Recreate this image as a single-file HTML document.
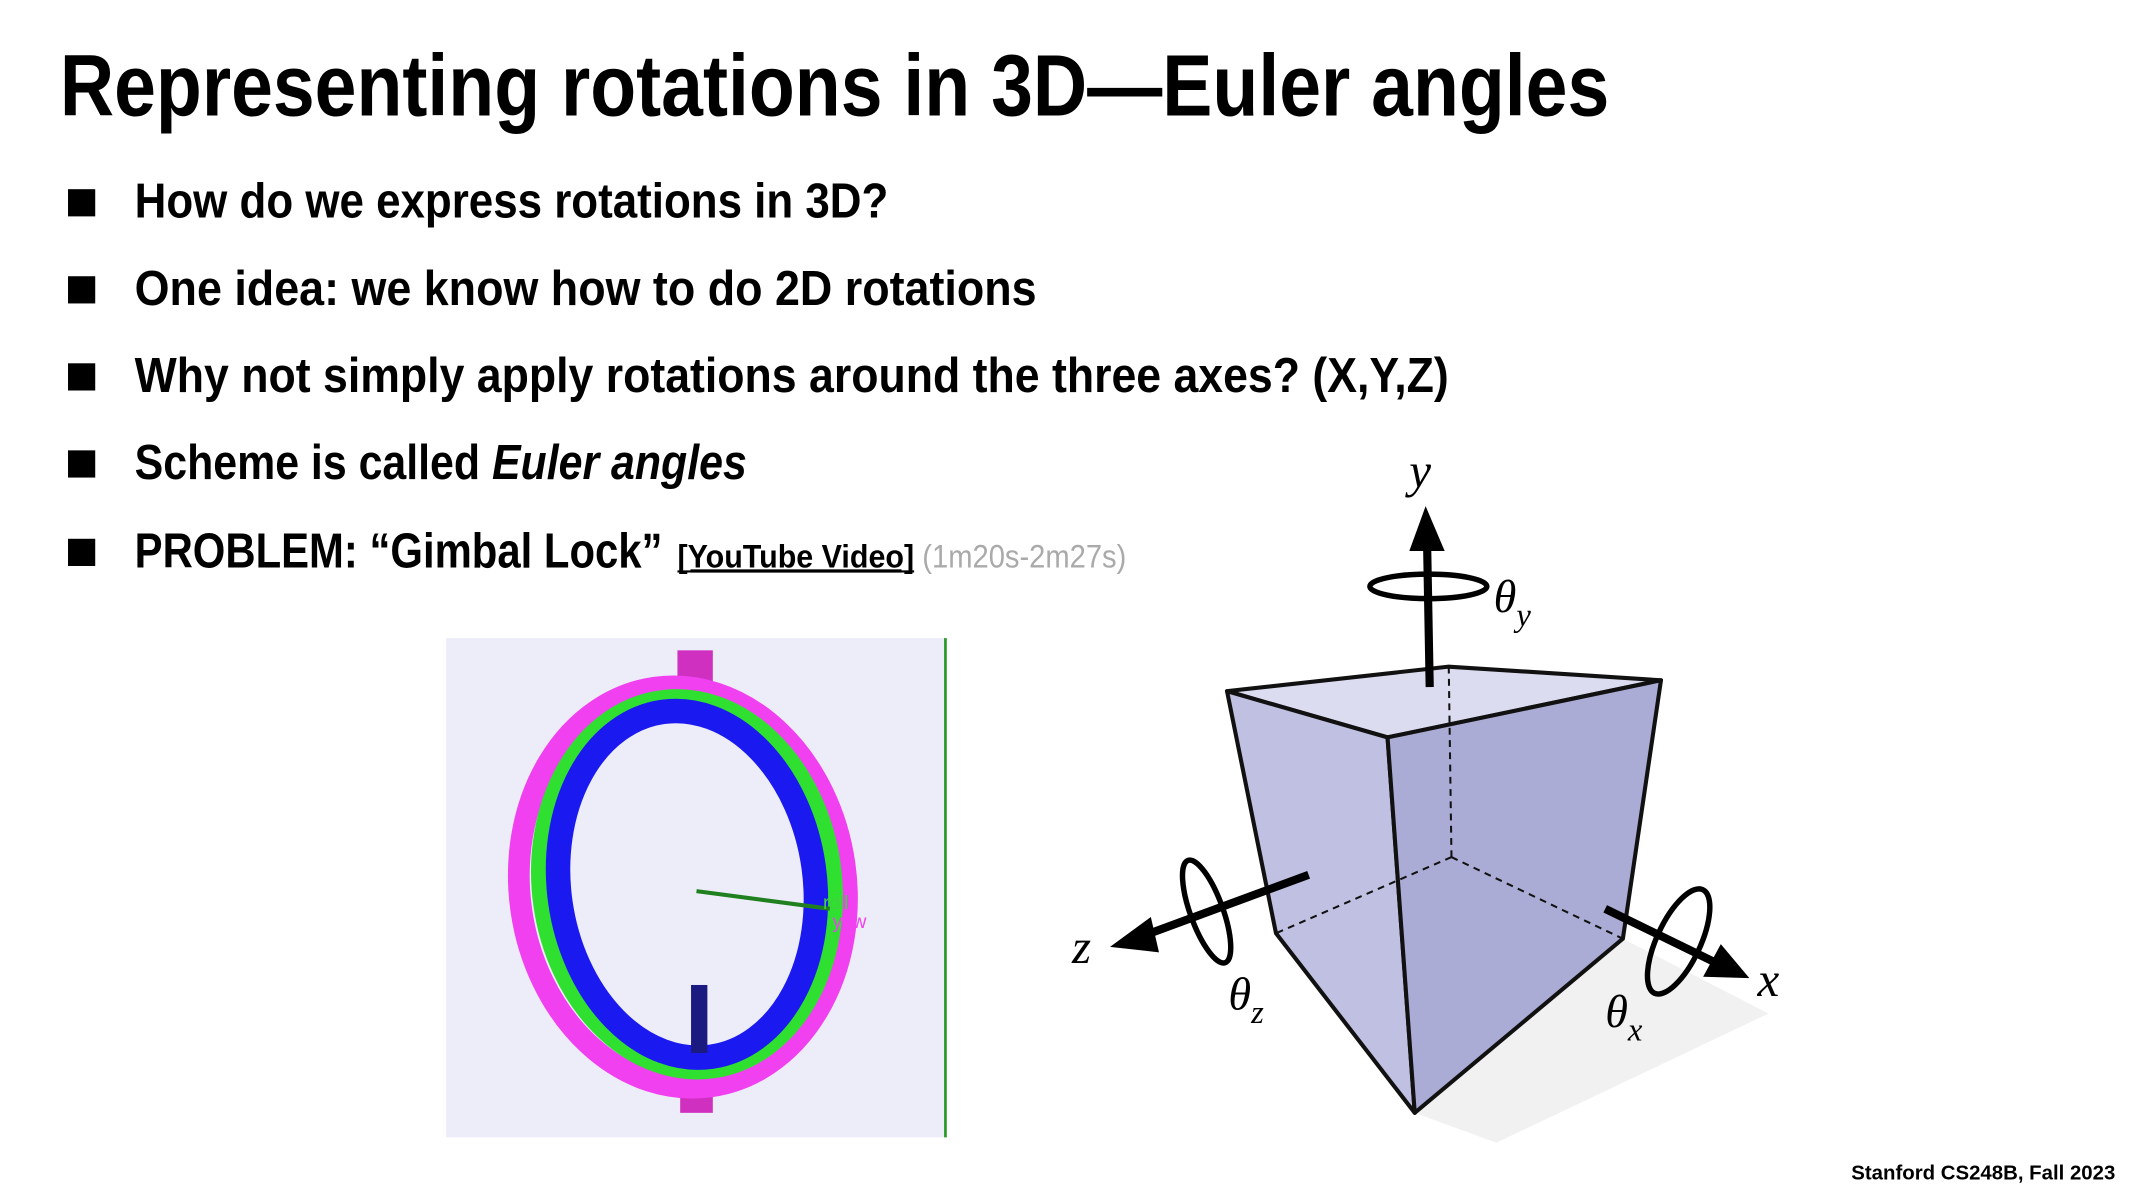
<!DOCTYPE html>
<html><head><meta charset="utf-8"><style>
html,body{margin:0;padding:0;background:#fff;}
svg{display:block;}
.t{font-family:"Liberation Sans Narrow","Liberation Sans",sans-serif;font-weight:bold;fill:#000;}
.m{font-family:"Liberation Serif",serif;font-style:italic;fill:#000;}
</style></head><body>
<svg width="2133" height="1200" viewBox="0 0 1568 882" xmlns="http://www.w3.org/2000/svg">
<text class="t" x="44" y="85" font-size="64" textLength="1139" lengthAdjust="spacingAndGlyphs">Representing rotations in 3D—Euler angles</text>
<g>
<rect x="50" y="139" width="20" height="20"/>
<text class="t" x="99" y="160" font-size="36" textLength="554" lengthAdjust="spacingAndGlyphs">How do we express rotations in 3D?</text>
<rect x="50" y="203" width="20" height="20"/>
<text class="t" x="99" y="224" font-size="36" textLength="663" lengthAdjust="spacingAndGlyphs">One idea: we know how to do 2D rotations</text>
<rect x="50" y="267" width="20" height="20"/>
<text class="t" x="99" y="288" font-size="36" textLength="966" lengthAdjust="spacingAndGlyphs">Why not simply apply rotations around the three axes? (X,Y,Z)</text>
<rect x="50" y="331" width="20" height="20"/>
<text class="t" x="99" y="352" font-size="36" textLength="450" lengthAdjust="spacingAndGlyphs">Scheme is called <tspan font-style="italic">Euler angles</tspan></text>
<rect x="50" y="396" width="20" height="20"/>
<text class="t" x="99" y="417" font-size="36" textLength="388" lengthAdjust="spacingAndGlyphs">PROBLEM: “Gimbal Lock”</text>
<text class="t" x="498" y="417" font-size="24" textLength="174" lengthAdjust="spacingAndGlyphs" text-decoration="underline">[YouTube Video]</text>
<line x1="498" y1="420" x2="672" y2="420" stroke="#000" stroke-width="1.5"/>
<text x="678" y="417" font-size="24" fill="#aaa" font-family="Liberation Sans Narrow,Liberation Sans,sans-serif" textLength="150" lengthAdjust="spacingAndGlyphs">(1m20s-2m27s)</text>
</g>
<g>
<rect x="328" y="469" width="368" height="367" fill="#ededfa"/>
<line x1="695" y1="469" x2="695" y2="836" stroke="#2a9a2a" stroke-width="2"/>
<rect x="498" y="478" width="26" height="28" fill="#d030c0"/>
<rect x="500" y="790" width="24" height="28" fill="#d030c0"/>
<ellipse cx="502" cy="652" rx="120" ry="148" fill="none" stroke="#f040f0" stroke-width="16" transform="rotate(-8 502 652)"/>
<ellipse cx="505" cy="650" rx="108" ry="138" fill="none" stroke="#30e030" stroke-width="12" transform="rotate(-8 505 650)"/>
<ellipse cx="505" cy="650" rx="94" ry="128" fill="none" stroke="#1a1af0" stroke-width="18" transform="rotate(-8 505 650)"/>
<rect x="508" y="724" width="12" height="50" fill="#1a1a80"/>
<line x1="512" y1="655" x2="610" y2="668" stroke="#208020" stroke-width="3"/>
<text x="605" y="668" font-size="14" fill="#40d040" font-family="Liberation Sans,sans-serif">roll</text>
<text x="612" y="682" font-size="14" fill="#f040f0" font-family="Liberation Sans,sans-serif">yaw</text>
</g>
<g>
<polygon points="1040,818 1193,690 1300,745 1100,840" fill="#eee" opacity="0.8"/>
<polygon points="902,508 1065,490 1221,500 1020,542" fill="#dcdcf0" stroke="#111" stroke-width="3" stroke-linejoin="round"/>
<polygon points="902,508 1020,542 1040,818 938,686" fill="#c0c0e2" stroke="#111" stroke-width="3" stroke-linejoin="round"/>
<polygon points="1020,542 1221,500 1193,690 1040,818" fill="#abacd6" stroke="#111" stroke-width="3" stroke-linejoin="round"/>
<g stroke="#111" stroke-width="1.5" stroke-dasharray="5,4" fill="none">
<line x1="1067" y1="630" x2="1065" y2="490"/><line x1="1067" y1="630" x2="938" y2="686"/><line x1="1067" y1="630" x2="1193" y2="690"/>
</g>
<g>
<line x1="1051" y1="505" x2="1049" y2="395" stroke="#000" stroke-width="6"/>
<polygon points="1048,372 1036,405 1062,405" fill="#000"/>
<ellipse cx="1050" cy="431" rx="43" ry="9" fill="none" stroke="#000" stroke-width="4"/>
<text class="m" x="1036" y="358" font-size="36">y</text>
<text class="m" x="1098" y="450" font-size="34">θ<tspan font-size="24" dy="10">y</tspan></text>
</g>
<g>
<line x1="962" y1="643" x2="840" y2="688" stroke="#000" stroke-width="6"/>
<polygon points="816,696 846,674 852,700" fill="#000"/>
<ellipse cx="887" cy="670" rx="12" ry="40" fill="none" stroke="#000" stroke-width="4" transform="rotate(-20 887 670)"/>
<text class="m" x="788" y="708" font-size="36">z</text>
<text class="m" x="903" y="742" font-size="34">θ<tspan font-size="24" dy="10">z</tspan></text>
</g>
<g>
<line x1="1180" y1="668" x2="1262" y2="708" stroke="#000" stroke-width="6"/>
<polygon points="1286,719 1252,718 1265,694" fill="#000"/>
<ellipse cx="1234" cy="692" rx="16" ry="42" fill="none" stroke="#000" stroke-width="4" transform="rotate(25 1234 692)"/>
<text class="m" x="1292" y="732" font-size="36">x</text>
<text class="m" x="1180" y="755" font-size="34">θ<tspan font-size="24" dy="10">x</tspan></text>
</g>
</g>
<text class="t" x="1555" y="867" font-size="15" text-anchor="end">Stanford CS248B, Fall 2023</text>
</svg>
</body></html>
